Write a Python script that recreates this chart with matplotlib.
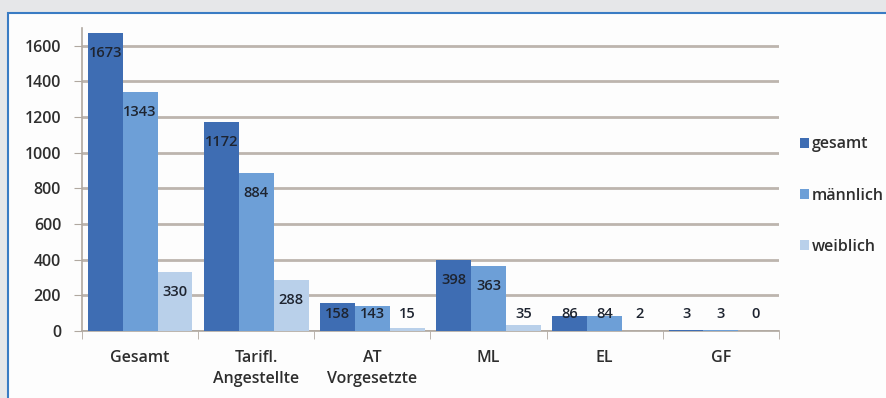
import matplotlib
matplotlib.use('Agg')
import matplotlib.pyplot as plt
from matplotlib.patches import Rectangle, Patch
import numpy as np

categories = ["Gesamt", "Tarifl.\nAngestellte", "AT\nVorgesetzte", "ML", "EL", "GF"]
gesamt = [1673, 1172, 158, 398, 86, 3]
maennlich = [1343, 884, 143, 363, 84, 3]
weiblich = [330, 288, 15, 35, 2, 0]
series_names = ["gesamt", "männlich", "weiblich"]
yticks = [0, 200, 400, 600, 800, 1000, 1200, 1400, 1600]

colors = ["#3e6db3", "#6d9fd7", "#b9d0ea"]
plt.rcParams['font.family'] = ['Open Sans', 'DejaVu Sans']

W, H = 886, 398
fig = plt.figure(figsize=(W / 100, H / 100), dpi=100)
fig.patch.set_facecolor('#e6e7e9')
panel = Rectangle((8 / W, -0.05), 1.2, 1.05 - 13 / H, transform=fig.transFigure,
                  facecolor='#fdfdfd', edgecolor='#3a7cc4', lw=1.5, zorder=-5)
fig.patches.append(panel)

ax = fig.add_axes([82 / W, 1 - 331 / H, (779 - 82) / W, (331 - 28) / H])
ax.set_facecolor('none')
ax.set_zorder(2)

x = np.arange(len(categories))
bw = 0.3
series = [gesamt, maennlich, weiblich]
for i, (vals, name, c) in enumerate(zip(series, series_names, colors)):
    xs = x + (i - 1) * bw
    ax.bar(xs, vals, width=bw, color=c, label=name, zorder=3)
    for xi, v in zip(xs, vals):
        ax.text(xi, max(v - 112, 95), str(v), ha='center', va='center',
                fontsize=10.5, color='#1e2430', zorder=4, fontweight='semibold')

ax.set_xlim(-0.5, len(categories) - 0.5)
ax.set_ylim(0, 1700)
ax.set_yticks(yticks)
ax.set_yticklabels([str(t) for t in yticks], fontsize=11.5, color='#2e2e2e', fontweight='semibold')
ax.yaxis.grid(True, color='#bdb5ae', lw=2, zorder=1)
ax.set_axisbelow(True)
ax.tick_params(axis='y', length=6, color='#b0a8a0', pad=9)

ax.set_xticks(x)
ax.set_xticklabels(categories, fontsize=11.5, color='#2e2e2e', fontweight='semibold', linespacing=1.35)
ax.set_xticks(np.arange(-0.5, len(categories)), minor=True)
ax.tick_params(axis='x', which='major', length=0, pad=14)
ax.tick_params(axis='x', which='minor', length=6, color='#b0a8a0')

for s in ['top', 'right']:
    ax.spines[s].set_visible(False)
ax.spines['left'].set_color('#b0a8a0')
ax.spines['bottom'].set_color('#b0a8a0')
ax.spines['left'].set_linewidth(1.2)
ax.spines['bottom'].set_linewidth(1.2)

handles = [Patch(facecolor=c, label=n) for c, n in zip(colors, series_names)]
leg = fig.legend(handles=handles, loc='upper left', bbox_to_anchor=(794 / W, 1 - 130 / H),
                 frameon=False, fontsize=11.5, handlelength=0.55, handleheight=0.55,
                 handletextpad=0.15, labelspacing=2.2, borderaxespad=0)
for t in leg.get_texts():
    t.set_color('#2e2e2e')
    t.set_fontweight('semibold')

fig.savefig('out.png', dpi=100, facecolor=fig.get_facecolor())
